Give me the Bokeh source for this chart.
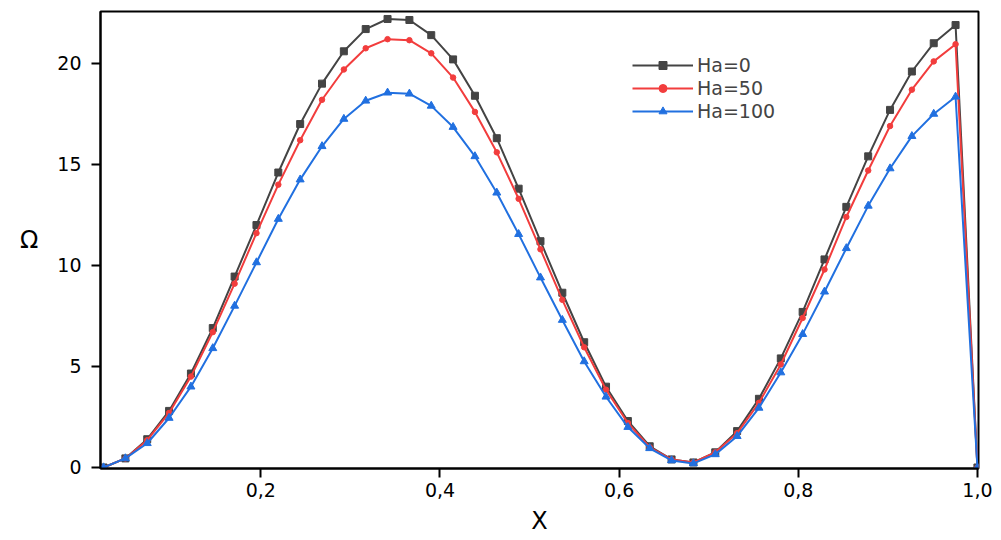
from bokeh.plotting import figure
from bokeh.models import FixedTicker, Range1d, Legend, LegendItem
from bokeh.embed import file_html
from bokeh.resources import INLINE

# x positions: k/41, k = 1..41
x_vals = [k / 41 for k in range(1, 42)]

ha0 = [0, 0.45, 1.4, 2.8, 4.65, 6.9, 9.45, 12.0, 14.6, 17.0, 19.0, 20.6, 21.7, 22.2,
       22.15, 21.4, 20.2, 18.4, 16.3, 13.8, 11.2, 8.65, 6.2, 4.0, 2.3, 1.05, 0.4, 0.25,
       0.75, 1.8, 3.4, 5.4, 7.7, 10.3, 12.9, 15.4, 17.7, 19.6, 21.0, 21.9, 0]
ha50 = [0, 0.45, 1.35, 2.7, 4.5, 6.7, 9.1, 11.6, 14.0, 16.2, 18.2, 19.7, 20.75, 21.2,
        21.15, 20.5, 19.3, 17.6, 15.6, 13.3, 10.8, 8.3, 5.95, 3.85, 2.2, 1.0, 0.4, 0.25,
        0.75, 1.7, 3.2, 5.1, 7.4, 9.8, 12.4, 14.7, 16.9, 18.7, 20.1, 20.95, 0]
ha100 = [0, 0.45, 1.2, 2.45, 4.0, 5.9, 8.0, 10.15, 12.3, 14.25, 15.9, 17.25, 18.15, 18.55,
         18.5, 17.9, 16.85, 15.4, 13.6, 11.55, 9.4, 7.3, 5.25, 3.5, 2.0, 0.95, 0.35, 0.2,
         0.65, 1.55, 2.95, 4.7, 6.6, 8.7, 10.85, 12.95, 14.8, 16.4, 17.5, 18.35, 0]

series_labels = ["Ha=0", "Ha=50", "Ha=100"]
x_ticks = [0.2, 0.4, 0.6, 0.8, 1.0]
x_tick_labels = ["0,2", "0,4", "0,6", "0,8", "1,0"]
y_ticks = [0, 5, 10, 15, 20]

FONT = "DejaVu Sans"

p = figure(width=1001, height=540, output_backend="svg", toolbar_location=None,
           x_range=Range1d(0.021, 1.0012), y_range=Range1d(-0.05, 22.57),
           min_border_left=100, min_border_right=23, min_border_top=11, min_border_bottom=72)
p.grid.visible = False
p.outline_line_color = "black"
p.outline_line_width = 2
p.background_fill_color = "white"
p.border_fill_color = "white"

colors = ["#444444", "#f23d3d", "#2170e0"]
series = [ha0, ha50, ha100]
items = []
for i, (ys, c) in enumerate(zip(series, colors)):
    r_line = p.line(x_vals, ys, line_color=c, line_width=2)
    if i == 0:
        r_m = p.scatter(x_vals, ys, marker="square", size=7, fill_color=c, line_color=c)
    elif i == 1:
        r_m = p.scatter(x_vals, ys, marker="circle", size=5.5, fill_color=c, line_color=c)
    else:
        r_m = p.scatter(x_vals, ys, marker="triangle", size=8, fill_color=c, line_color=c)
    items.append(LegendItem(label=series_labels[i], renderers=[r_line, r_m]))

legend = Legend(items=items, location=(532, 346), border_line_color=None,
                background_fill_alpha=0, padding=0, spacing=1, margin=0,
                label_text_font=FONT, label_text_font_size="19px",
                glyph_width=61, glyph_height=20, label_height=20, label_standoff=4)
p.add_layout(legend, "center")

for ax in (p.xaxis, p.yaxis):
    ax.axis_line_width = 2
    ax.axis_line_color = "black"
    ax.major_tick_line_width = 2
    ax.major_tick_line_color = "black"
    ax.major_tick_in = 0
    ax.major_tick_out = 9
    ax.minor_tick_line_color = None
    ax.major_label_text_font = FONT
    ax.major_label_text_font_size = "19px"
    ax.major_label_text_color = "black"
    ax.axis_label_text_font = FONT
    ax.axis_label_text_font_size = "24px"
    ax.axis_label_text_font_style = "normal"
    ax.axis_label_text_color = "black"

p.xaxis.ticker = FixedTicker(ticks=x_ticks)
p.xaxis.major_label_overrides = {t: l for t, l in zip(x_ticks, x_tick_labels)}
p.xaxis.major_label_standoff = 5
p.xaxis.axis_label = "X"
p.xaxis.axis_label_standoff = 7

p.yaxis.ticker = FixedTicker(ticks=y_ticks)
p.yaxis.major_label_standoff = 10
p.yaxis.axis_label = "Ω"
p.yaxis.axis_label_standoff = 16
p.yaxis.axis_label_orientation = "horizontal"

open("out.html", "w").write(file_html(p, INLINE))
